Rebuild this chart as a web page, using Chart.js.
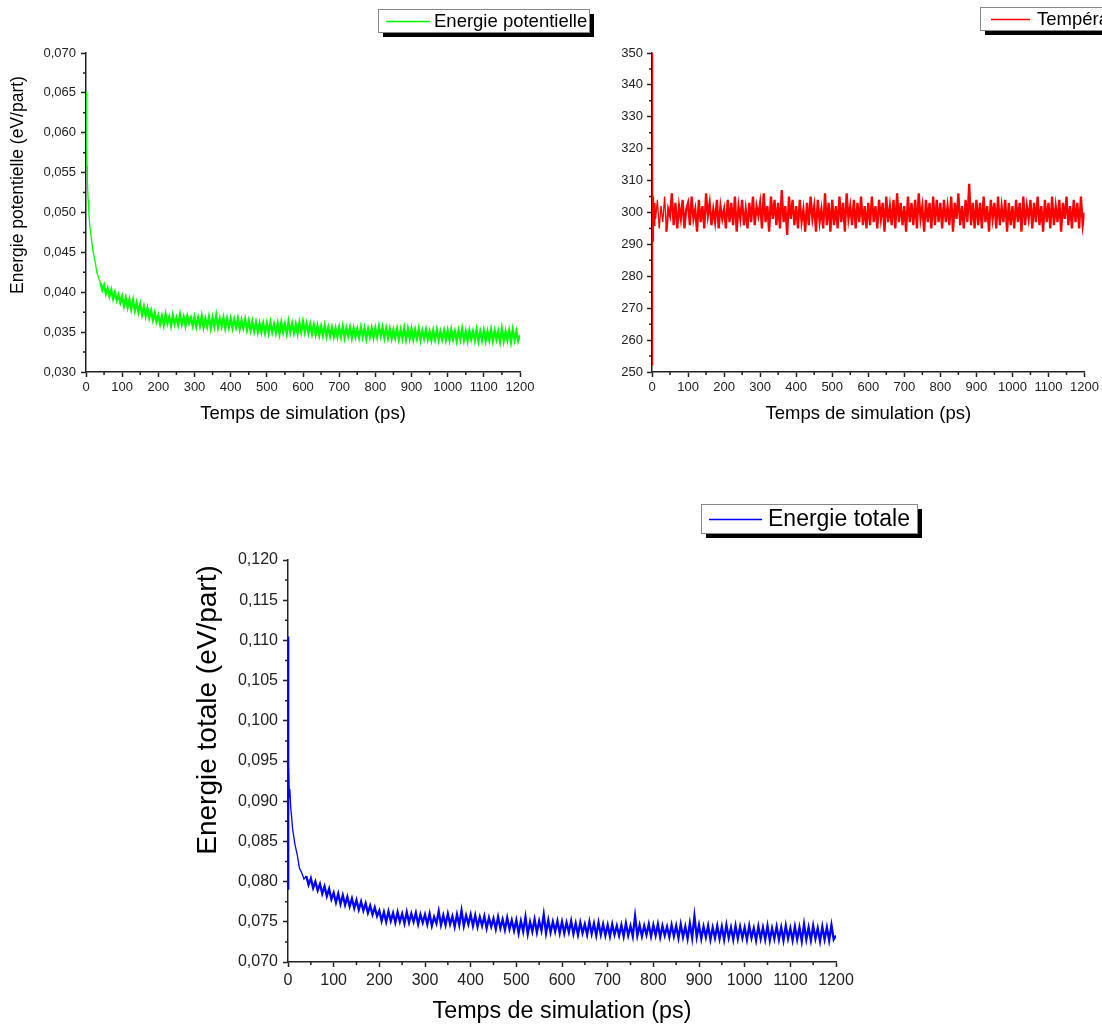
<!DOCTYPE html>
<html>
<head>
<meta charset="utf-8">
<style>
  html, body { margin: 0; padding: 0; background: #fff; }
  body { width: 1102px; height: 1026px; position: relative; overflow: hidden; }
  canvas { position: absolute; }
</style>
<script src="https://cdn.jsdelivr.net/npm/chart.js@4.4.0/dist/chart.umd.min.js"></script>
</head>
<body>
<canvas id="chartPot" width="610" height="440" style="left:0;top:0"></canvas>
<canvas id="chartTemp" width="542" height="440" style="left:560px;top:0"></canvas>
<canvas id="chartTot" width="760" height="536" style="left:180px;top:490px"></canvas>
<script>
// simulation time (ps)
const times = [
  0, 1, 2, 3, 4, 6, 8,
  10, 15, 20, 25, 30, 35, 40, 45, 50, 55, 60, 65, 70, 75, 80, 85, 90, 95,
  100, 105, 110, 115, 120, 125, 130, 135, 140, 145, 150, 155, 160, 165, 170, 175, 180, 185, 190, 195,
  200, 205, 210, 215, 220, 225, 230, 235, 240, 245, 250, 255, 260, 265, 270, 275, 280, 285, 290, 295,
  300, 305, 310, 315, 320, 325, 330, 335, 340, 345, 350, 355, 360, 365, 370, 375, 380, 385, 390, 395,
  400, 405, 410, 415, 420, 425, 430, 435, 440, 445, 450, 455, 460, 465, 470, 475, 480, 485, 490, 495,
  500, 505, 510, 515, 520, 525, 530, 535, 540, 545, 550, 555, 560, 565, 570, 575, 580, 585, 590, 595,
  600, 605, 610, 615, 620, 625, 630, 635, 640, 645, 650, 655, 660, 665, 670, 675, 680, 685, 690, 695,
  700, 705, 710, 715, 720, 725, 730, 735, 740, 745, 750, 755, 760, 765, 770, 775, 780, 785, 790, 795,
  800, 805, 810, 815, 820, 825, 830, 835, 840, 845, 850, 855, 860, 865, 870, 875, 880, 885, 890, 895,
  900, 905, 910, 915, 920, 925, 930, 935, 940, 945, 950, 955, 960, 965, 970, 975, 980, 985, 990, 995,
  1000, 1005, 1010, 1015, 1020, 1025, 1030, 1035, 1040, 1045, 1050, 1055, 1060, 1065, 1070, 1075, 1080, 1085, 1090, 1095,
  1100, 1105, 1110, 1115, 1120, 1125, 1130, 1135, 1140, 1145, 1150, 1155, 1160, 1165, 1170, 1175, 1180, 1185, 1190, 1195,
  1200
];

// Energie potentielle (eV/part)
const potentielle = [
  0.0652, 0.0612, 0.0581, 0.0558, 0.0537, 0.0516, 0.0499,
  0.0486, 0.0467, 0.0450, 0.0439, 0.0425, 0.0418, 0.0412, 0.0403, 0.0409, 0.0398, 0.0405, 0.0395, 0.0403, 0.0392, 0.0400, 0.0390, 0.0397, 0.0387,
  0.0395, 0.0383, 0.0393, 0.0381, 0.0391, 0.0379, 0.0390, 0.0377, 0.0387, 0.0375, 0.0385, 0.0372, 0.0382, 0.0370, 0.0380, 0.0368, 0.0377, 0.0365, 0.0374, 0.0363,
  0.0371, 0.0360, 0.0370, 0.0359, 0.0372, 0.0361, 0.0369, 0.0358, 0.0371, 0.0360, 0.0368, 0.0359, 0.0372, 0.0360, 0.0369, 0.0358, 0.0370, 0.0361, 0.0368, 0.0358,
  0.0369, 0.0357, 0.0368, 0.0358, 0.0370, 0.0356, 0.0367, 0.0357, 0.0369, 0.0355, 0.0368, 0.0357, 0.0371, 0.0356, 0.0367, 0.0357, 0.0368, 0.0355, 0.0367, 0.0356,
  0.0367, 0.0355, 0.0366, 0.0356, 0.0367, 0.0354, 0.0365, 0.0355, 0.0366, 0.0353, 0.0364, 0.0352, 0.0363, 0.0351, 0.0362, 0.0350, 0.0361, 0.0350, 0.0361, 0.0349,
  0.0361, 0.0349, 0.0362, 0.0350, 0.0360, 0.0349, 0.0361, 0.0348, 0.0362, 0.0350, 0.0360, 0.0348, 0.0363, 0.0350, 0.0361, 0.0349, 0.0360, 0.0348, 0.0362, 0.0350,
  0.0363, 0.0350, 0.0361, 0.0349, 0.0360, 0.0348, 0.0359, 0.0347, 0.0358, 0.0346, 0.0357, 0.0346, 0.0358, 0.0345, 0.0356, 0.0345, 0.0356, 0.0344, 0.0355, 0.0344,
  0.0356, 0.0344, 0.0357, 0.0343, 0.0355, 0.0345, 0.0356, 0.0343, 0.0355, 0.0344, 0.0354, 0.0343, 0.0356, 0.0344, 0.0355, 0.0342, 0.0354, 0.0344, 0.0355, 0.0343,
  0.0355, 0.0344, 0.0357, 0.0345, 0.0356, 0.0343, 0.0355, 0.0343, 0.0354, 0.0342, 0.0353, 0.0343, 0.0354, 0.0341, 0.0353, 0.0342, 0.0355, 0.0341, 0.0354, 0.0342,
  0.0354, 0.0341, 0.0353, 0.0342, 0.0354, 0.0340, 0.0352, 0.0342, 0.0353, 0.0341, 0.0351, 0.0340, 0.0352, 0.0341, 0.0353, 0.0340, 0.0351, 0.0341, 0.0352, 0.0340,
  0.0352, 0.0340, 0.0353, 0.0341, 0.0351, 0.0339, 0.0352, 0.0341, 0.0354, 0.0340, 0.0351, 0.0339, 0.0352, 0.0341, 0.0351, 0.0340, 0.0353, 0.0339, 0.0351, 0.0340,
  0.0352, 0.0339, 0.0351, 0.0340, 0.0353, 0.0339, 0.0352, 0.0341, 0.0351, 0.0338, 0.0354, 0.0339, 0.0351, 0.0340, 0.0352, 0.0338, 0.0353, 0.0340, 0.0351, 0.0339,
  0.0346
];

// Température (K)
const temperature = [
  350, 252, 312, 291, 305, 296, 303,
  298, 304, 295, 302, 297, 305, 294, 301, 299, 306, 296, 303, 295, 302, 298, 304, 295, 301,
  303, 296, 305, 298, 301, 294, 304, 297, 302, 295, 306, 299, 303, 296, 301, 297, 304, 295, 302, 298,
  301, 295, 304, 297, 303, 296, 305, 294, 302, 298, 304, 296, 301, 295, 303, 297, 305, 296, 302, 299,
  303, 295, 306, 297, 302, 294, 305, 298, 304, 296, 303, 295, 307, 297, 302, 293, 305, 298, 304, 296,
  302, 295, 304, 297, 301, 294, 303, 296, 305, 298, 302, 294, 304, 297, 301, 295, 306, 296, 303, 294,
  304, 296, 302, 295, 305, 297, 303, 294, 306, 298, 302, 296, 304, 295, 303, 297, 305, 296, 302, 295,
  303, 296, 305, 297, 302, 295, 304, 298, 303, 294, 305, 297, 302, 296, 304, 295, 306, 297, 303, 296,
  302, 294, 305, 297, 303, 296, 304, 295, 306, 298, 302, 294, 304, 297, 303, 295, 305, 296, 304, 297,
  303, 295, 304, 297, 302, 296, 305, 294, 303, 298, 306, 296, 302, 295, 304, 297, 309, 296, 303, 295,
  304, 296, 303, 295, 305, 297, 302, 294, 304, 298, 303, 295, 305, 296, 302, 297, 304, 294, 303, 296,
  302, 295, 304, 297, 303, 294, 305, 296, 302, 298, 304, 295, 303, 297, 305, 296, 302, 294, 304, 297,
  303, 295, 305, 296, 302, 297, 304, 294, 303, 298, 305, 296, 302, 295, 304, 297, 303, 295, 305, 296,
  300
];

// Energie totale (eV/part)
const totale = [
  0.1105, 0.0790, 0.0945, 0.0905, 0.0915, 0.0892, 0.0880,
  0.0866, 0.0847, 0.0834, 0.0817, 0.0811, 0.0803, 0.0807, 0.0796, 0.0804, 0.0792, 0.0800, 0.0789, 0.0797, 0.0785, 0.0794, 0.0782, 0.0791, 0.0778,
  0.0786, 0.0774, 0.0785, 0.0772, 0.0783, 0.0771, 0.0781, 0.0769, 0.0779, 0.0767, 0.0777, 0.0765, 0.0775, 0.0764, 0.0773, 0.0761, 0.0770, 0.0759, 0.0768, 0.0757,
  0.0764, 0.0751, 0.0762, 0.0750, 0.0763, 0.0751, 0.0761, 0.0749, 0.0762, 0.0750, 0.0760, 0.0748, 0.0762, 0.0749, 0.0760, 0.0750, 0.0761, 0.0747, 0.0759, 0.0749,
  0.0759, 0.0747, 0.0760, 0.0745, 0.0756, 0.0748, 0.0763, 0.0746, 0.0758, 0.0746, 0.0760, 0.0747, 0.0757, 0.0744, 0.0759, 0.0746, 0.0764, 0.0745, 0.0758, 0.0747,
  0.0759, 0.0745, 0.0758, 0.0744, 0.0756, 0.0745, 0.0757, 0.0742, 0.0755, 0.0744, 0.0754, 0.0741, 0.0756, 0.0742, 0.0753, 0.0740, 0.0755, 0.0741, 0.0752, 0.0739,
  0.0752, 0.0736, 0.0751, 0.0738, 0.0756, 0.0735, 0.0750, 0.0738, 0.0753, 0.0737, 0.0751, 0.0739, 0.0759, 0.0736, 0.0752, 0.0737, 0.0750, 0.0738, 0.0751, 0.0736,
  0.0750, 0.0736, 0.0749, 0.0737, 0.0751, 0.0735, 0.0748, 0.0734, 0.0749, 0.0736, 0.0747, 0.0734, 0.0750, 0.0735, 0.0748, 0.0733, 0.0749, 0.0734, 0.0747, 0.0733,
  0.0746, 0.0732, 0.0747, 0.0734, 0.0745, 0.0733, 0.0746, 0.0732, 0.0748, 0.0733, 0.0745, 0.0732, 0.0757, 0.0733, 0.0746, 0.0732, 0.0745, 0.0734, 0.0747, 0.0732,
  0.0746, 0.0733, 0.0747, 0.0731, 0.0745, 0.0733, 0.0744, 0.0731, 0.0746, 0.0732, 0.0745, 0.0730, 0.0747, 0.0731, 0.0744, 0.0729, 0.0748, 0.0730, 0.0757, 0.0731,
  0.0746, 0.0729, 0.0744, 0.0731, 0.0745, 0.0728, 0.0743, 0.0730, 0.0745, 0.0729, 0.0744, 0.0728, 0.0746, 0.0730, 0.0743, 0.0728, 0.0745, 0.0729, 0.0744, 0.0730,
  0.0743, 0.0728, 0.0745, 0.0730, 0.0742, 0.0727, 0.0744, 0.0729, 0.0743, 0.0728, 0.0745, 0.0727, 0.0742, 0.0729, 0.0744, 0.0728, 0.0743, 0.0727, 0.0745, 0.0729,
  0.0742, 0.0727, 0.0744, 0.0728, 0.0743, 0.0726, 0.0747, 0.0728, 0.0743, 0.0727, 0.0745, 0.0729, 0.0742, 0.0726, 0.0744, 0.0728, 0.0743, 0.0727, 0.0746, 0.0728,
  0.0733
];

// axis ranges: [min, max, major step]
const timeAxis = [0, 1200, 100];
const potAxis = [0.030, 0.070, 0.005];
const tempAxis = [250, 350, 10];
const totAxis = [0.070, 0.120, 0.005];

[potentielle, temperature, totale].forEach((s, i) => {
  if (s.length !== times.length) throw new Error('series ' + i + ' has ' + s.length + ' values, expected ' + times.length);
});

const FONT = '"Liberation Sans", Arial, sans-serif';
const AXIS = '#222';

// Origin-style minor ticks, halfway between the major ones
const minorTicks = {
  id: 'minorTicks',
  afterDraw(chart, args, opts) {
    const { ctx } = chart;
    const x = chart.scales.x, y = chart.scales.y;
    ctx.save();
    ctx.strokeStyle = AXIS;
    ctx.lineWidth = 1.5;
    ctx.beginPath();
    for (let v = x.min + opts.x; v < x.max; v += 2 * opts.x) {
      const px = x.getPixelForValue(v);
      ctx.moveTo(px, x.top);
      ctx.lineTo(px, x.top + opts.len);
    }
    for (let v = y.min + opts.y; v < y.max - opts.y / 2; v += 2 * opts.y) {
      const py = y.getPixelForValue(v);
      ctx.moveTo(y.right, py);
      ctx.lineTo(y.right - opts.len, py);
    }
    ctx.stroke();
    ctx.restore();
  }
};

// rotated y title, placed where Origin put it
const yTitle = {
  id: 'yTitle',
  afterDraw(chart, args, o) {
    if (!o.text) return;
    const { ctx } = chart;
    ctx.save();
    ctx.translate(o.x, o.y);
    ctx.rotate(-Math.PI / 2);
    ctx.font = o.size + 'px ' + FONT;
    ctx.fillStyle = '#000';
    ctx.textAlign = 'center';
    ctx.textBaseline = 'middle';
    ctx.fillText(o.text, 0, 0);
    ctx.restore();
  }
};

// legend box with a black drop shadow (one plugin per chart)
function boxLegend(label, swatch, o) {
  return {
    id: 'boxLegend',
    afterDraw(chart) {
      const { ctx } = chart;
      ctx.save();
      ctx.fillStyle = '#000';
      ctx.fillRect(o.x + 5, o.y + 5, o.w, o.h);
      ctx.fillStyle = '#fff';
      ctx.fillRect(o.x, o.y, o.w, o.h);
      ctx.strokeStyle = '#888';
      ctx.lineWidth = 1;
      ctx.strokeRect(o.x + 0.5, o.y + 0.5, o.w, o.h);
      const cy = Math.round(o.y + o.h / 2) + 0.5;
      ctx.beginPath();
      ctx.strokeStyle = swatch;
      ctx.lineWidth = 1.3;
      ctx.moveTo(o.x1, cy);
      ctx.lineTo(o.x2, cy);
      ctx.stroke();
      ctx.fillStyle = '#000';
      ctx.font = o.size + 'px ' + FONT;
      ctx.textBaseline = 'middle';
      ctx.fillText(label, o.textX, o.y + o.h / 2 + 1);
      ctx.restore();
    }
  };
}

function comma(decimals) {
  return v => Number(v).toFixed(decimals).replace('.', ',');
}

function buildChart(canvasId, spec) {
  const [xmin, xmax, xstep] = timeAxis;
  const [ymin, ymax, ystep] = spec.axis;
  return new Chart(document.getElementById(canvasId), {
    type: 'line',
    data: {
      datasets: [{
        label: spec.label,
        data: times.map((t, i) => ({ x: t, y: spec.values[i] })),
        borderColor: spec.color,
        borderWidth: 2.3,
        // the smooth initial decay is drawn thinner than the noisy plateau
        segment: { borderWidth: c => (c.p1.parsed.x <= 40 ? 1.3 : 2.3) },
        pointRadius: 0,
        tension: 0
      }]
    },
    options: {
      responsive: false,
      animation: false,
      devicePixelRatio: 1,
      layout: { padding: spec.padding },
      plugins: {
        legend: { display: false },
        tooltip: { enabled: false },
        minorTicks: { x: xstep / 2, y: ystep / 2, len: 3 },
        yTitle: spec.yTitle
      },
      scales: {
        x: {
          type: 'linear',
          min: xmin,
          max: xmax,
          afterFit: s => { s.height = spec.xHeight; },
          ticks: {
            stepSize: xstep,
            autoSkip: false,
            maxRotation: 0,
            color: AXIS,
            padding: spec.xTickPad,
            font: { family: FONT, size: spec.tickSize },
            callback: v => String(v)
          },
          grid: { drawOnChartArea: false, color: AXIS, tickLength: 5, tickWidth: 1.5 },
          border: { color: AXIS, width: 1.5 },
          title: {
            display: true,
            text: 'Temps de simulation (ps)',
            color: '#000',
            font: { family: FONT, size: spec.xTitleSize },
            padding: { top: 0, bottom: spec.xTitlePad }
          }
        },
        y: {
          type: 'linear',
          min: ymin,
          max: ymax,
          afterFit: s => { s.width = spec.yWidth; },
          ticks: {
            stepSize: ystep,
            autoSkip: false,
            color: AXIS,
            padding: spec.yTickPad,
            font: { family: FONT, size: spec.tickSize },
            callback: comma(spec.decimals)
          },
          grid: { drawOnChartArea: false, color: AXIS, tickLength: 5, tickWidth: 1.5 },
          border: { color: AXIS, width: 1.5 }
        }
      }
    },
    plugins: [minorTicks, yTitle, boxLegend(spec.label, spec.color, spec.legend)]
  });
}

buildChart('chartPot', {
  label: 'Energie potentielle',
  values: potentielle,
  color: '#00ff00',
  axis: potAxis,
  decimals: 3,
  padding: { left: 0, top: 53, right: 90, bottom: 0 },
  xHeight: 68, yWidth: 86,
  tickSize: 13, xTickPad: 3, yTickPad: 5,
  xTitleSize: 18.5, xTitlePad: 15,
  yTitle: { text: 'Energie potentielle (eV/part)', x: 18, y: 185, size: 17.5 },
  legend: { x: 378, y: 9, w: 211, h: 23, x1: 386, x2: 430, textX: 434, size: 18.5 }
});

buildChart('chartTemp', {
  label: 'Température',
  values: temperature,
  color: '#ff0000',
  axis: tempAxis,
  decimals: 0,
  padding: { left: 0, top: 53, right: 16, bottom: 0 },
  xHeight: 68, yWidth: 92,
  tickSize: 13, xTickPad: 3, yTickPad: 4,
  xTitleSize: 18.5, xTitlePad: 15,
  yTitle: { text: null },
  legend: { x: 420, y: 7, w: 160, h: 23, x1: 431, x2: 470, textX: 477, size: 18.5 }
});

buildChart('chartTot', {
  label: 'Energie totale',
  values: totale,
  color: '#0000ff',
  axis: totAxis,
  decimals: 3,
  padding: { left: 0, top: 70, right: 104, bottom: 0 },
  xHeight: 64, yWidth: 108,
  tickSize: 16, xTickPad: 4, yTickPad: 5,
  xTitleSize: 23.3, xTitlePad: 0,
  yTitle: { text: 'Energie totale (eV/part)', x: 28, y: 220, size: 28 },
  legend: { x: 521, y: 14, w: 216, h: 29, x1: 529, x2: 582, textX: 588, size: 23 }
});
</script>
</body>
</html>
